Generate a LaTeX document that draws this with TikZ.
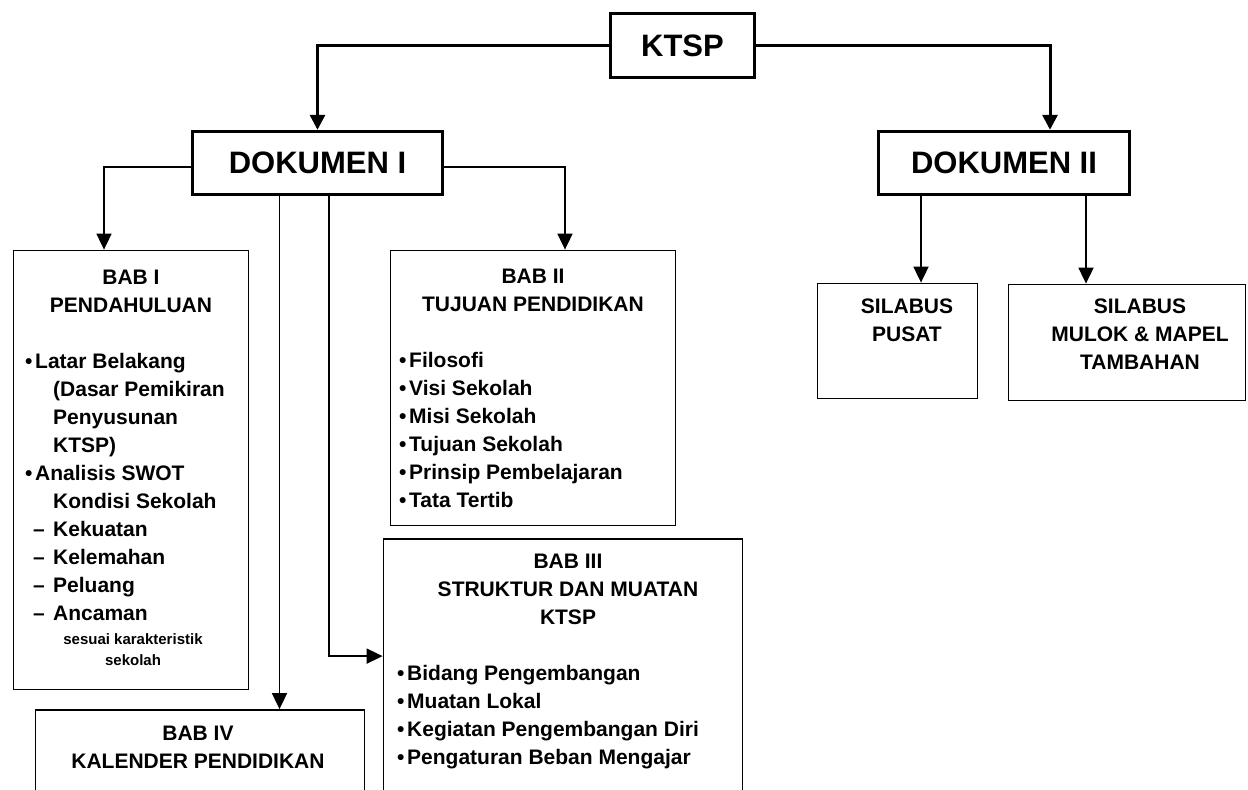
\documentclass[tikz,border=0pt]{standalone}
\usepackage{fontspec}
\setmainfont{Liberation Sans}
\usetikzlibrary{arrows.meta,positioning}
\newcommand{\bul}{\makebox[10pt][l]{•}}
\newcommand{\dsh}{\hspace*{8pt}\makebox[20pt][l]{–}}

\begin{document}
\begin{tikzpicture}[x=1pt,y=-1pt,
  font=\bfseries\fontsize{21}{28}\selectfont,
  box/.style={rectangle, draw, line width=1.8pt, inner sep=0pt},
  topbox/.style={rectangle, draw, line width=3.4pt, inner sep=0pt,
    font=\bfseries\fontsize{31}{36}\selectfont},
  txt/.style={inner sep=0pt, align=center},
  lst/.style={inner sep=0pt, align=left, anchor=north west},
  link/.style={line width=1.8pt, -{Triangle[length=16pt,width=15pt]}},
  mainlink/.style={line width=3pt, -{Triangle[length=15pt,width=15pt]}}]
\useasboundingbox (0,0) rectangle (1248,790);

% top level
\node[topbox, minimum width=144pt, minimum height=64pt] (ktsp) at (682.5,45.5) {KTSP};
\node[topbox, minimum width=250pt, minimum height=63pt] (dok1) at (317.5,163) {DOKUMEN I};
\node[topbox, minimum width=251pt, minimum height=63pt] (dok2) at (1004,163) {DOKUMEN II};

% dokumen I
\node[box, minimum width=235pt, minimum height=439pt] (bab1) at (131,470) {};
\node[box, minimum width=285pt, minimum height=275pt] (bab2) at (533,388) {};
\node[box, minimum width=359pt, minimum height=281pt] (bab3) at (563,679.5) {};
\node[box, minimum width=329pt, minimum height=110pt] (bab4) at (200,765) {};

\node[txt] (bab1t) at (131,291) {BAB I\\PENDAHULUAN};
\node[lst] (bab1l) at (25,353) {\bul Latar Belakang\\
  \hspace*{28pt}(Dasar Pemikiran\\
  \hspace*{28pt}Penyusunan\\
  \hspace*{28pt}KTSP)\\
  \bul Analisis SWOT\\
  \hspace*{28pt}Kondisi Sekolah\\
  \dsh Kekuatan\\
  \dsh Kelemahan\\
  \dsh Peluang\\
  \dsh Ancaman};
\node[txt, font=\bfseries\fontsize{15}{21}\selectfont] (bab1n) at (133,650) {sesuai karakteristik\\sekolah};

\node[txt] (bab2t) at (533,290) {BAB II\\TUJUAN PENDIDIKAN};
\node[lst] (bab2l) at (399,352) {\bul Filosofi\\
  \bul Visi Sekolah\\
  \bul Misi Sekolah\\
  \bul Tujuan Sekolah\\
  \bul Prinsip Pembelajaran\\
  \bul Tata Tertib};

\node[txt] (bab3t) at (568,589) {BAB III\\STRUKTUR DAN MUATAN\\KTSP};
\node[lst] (bab3l) at (397,665) {\bul Bidang Pengembangan\\
  \bul Muatan Lokal\\
  \bul Kegiatan Pengembangan Diri\\
  \bul Pengaturan Beban Mengajar};

\node[txt] (bab4t) at (198,747.5) {BAB IV\\KALENDER PENDIDIKAN};

% dokumen II
\node[box, minimum width=160pt, minimum height=115pt] (pusat) at (897.5,341) {};
\node[box, minimum width=237pt, minimum height=116pt] (mulok) at (1127,342.5) {};
\node[txt] (pusatt) at (907,320) {SILABUS\\PUSAT};
\node[txt] (mulokt) at (1140,334) {SILABUS\\MULOK \& MAPEL\\TAMBAHAN};

% connector ends
\coordinate (d2in) at ([xshift=46pt]dok2.north);
\coordinate (b1in) at ([xshift=-27pt]bab1.north);
\coordinate (b2in) at ([xshift=32pt]bab2.north);
\coordinate (b4out) at ([xshift=-38pt]dok1.south);
\coordinate (b3out) at ([xshift=11.5pt]dok1.south);
\coordinate (b3in) at ([yshift=-118pt]bab3.north west);
\coordinate (pout) at ([xshift=-83pt]dok2.south);
\coordinate (mout) at ([xshift=82pt]dok2.south);

\draw[mainlink] (ktsp.west) -| (dok1.north);
\draw[mainlink] (ktsp.east) -| (d2in);
\draw[link] ([yshift=-4pt]dok1.west) -| (b1in);
\draw[link] ([yshift=-4pt]dok1.east) -| (b2in);
\draw[link] (b4out) -- (b4out |- bab4.north);
\draw[link] (b3out) |- (b3in);
\draw[link] (pout) -- (pout |- pusat.north);
\draw[link] (mout) -- (mout |- mulok.north);
\end{tikzpicture}
\end{document}
